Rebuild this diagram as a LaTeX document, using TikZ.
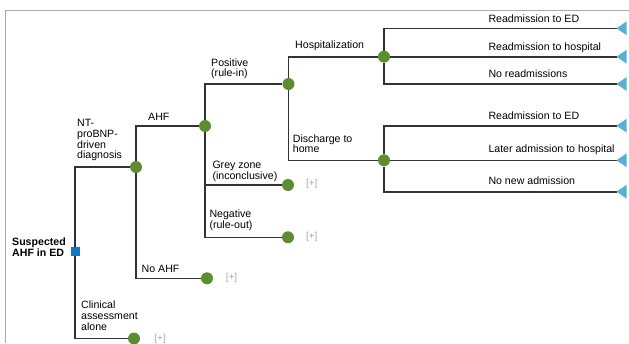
\documentclass[tikz,border=0pt]{standalone}
\usepackage{fontspec}
\setmainfont{Liberation Sans}
\definecolor{nodegreen}{RGB}{94,140,49}
\definecolor{rootblue}{RGB}{26,117,188}
\definecolor{endblue}{RGB}{86,176,214}
\definecolor{edgegray}{RGB}{51,51,51}
\definecolor{framegray}{RGB}{170,170,170}
\definecolor{plusgray}{RGB}{170,170,170}
\begin{document}
\begin{tikzpicture}[x=1pt,y=-1pt,
  chance/.style={circle,fill=nodegreen,minimum size=12pt,inner sep=0pt},
  decision/.style={rectangle,fill=rootblue,minimum size=9pt,inner sep=0pt},
  edge/.style={draw=edgegray,line width=1.6pt},
  lbl/.style={anchor=base west,inner sep=0pt,align=left,font=\fontsize{10.6}{10.7}\selectfont},
  plus/.style={inner sep=0pt,text=plusgray,font=\fontsize{10}{10}\selectfont},
  endtri/.style={fill=endblue}
]
\useasboundingbox (0,0) rectangle (629,343);
% frame
\draw[framegray,line width=1.5pt] (629,10.7) -- (5.7,10.7) -- (5.7,343);
% nodes
\node[decision] (root) at (75,251.5) {};
\node[chance] (n1) at (136,167) {};
\node[chance] (c0) at (134,338.5) {};
\node[chance] (n2) at (205,126) {};
\node[chance] (noahf) at (207,278.3) {};
\node[chance] (n3) at (288.5,84) {};
\node[chance] (grey) at (288,185) {};
\node[chance] (neg) at (288,237.3) {};
\node[chance] (n4) at (384,56.7) {};
\node[chance] (n5) at (384,160.3) {};
\coordinate (t1) at (616.5,28.3);
\coordinate (t2) at (616.5,56.7);
\coordinate (t3) at (616.5,84);
\coordinate (t4) at (616.5,125.7);
\coordinate (t5) at (616.5,160.3);
\coordinate (t6) at (616.5,191.7);
% connectors
\begin{scope}[every path/.style={edge}]
\draw (root) |- (n1);
\draw (root) |- (c0);
\draw (n1) |- (n2);
\draw (n1) |- (noahf);
\draw (n2) |- (n3);
\draw (n2) |- (grey);
\draw (n2) |- (neg);
\draw (n3) |- (n4);
\draw (n3) |- (n5);
\draw (n4) |- (t1);
\draw (n4) -- (t2);
\draw (n4) |- (t3);
\draw (n5) |- (t4);
\draw (n5) -- (t5);
\draw (n5) |- (t6);
\end{scope}
% terminal triangles
\foreach \t in {t1,t2,t3,t4,t5,t6}{
  \fill[endtri] (\t) -- ++(10,-6.8) -- ++(0,13.6) -- cycle;
}
% labels (y = baseline of last line)
\node[lbl,font=\fontsize{10.6}{11}\bfseries] (lroot) at (12,256.7) {Suspected\\AHF in ED};
\node[lbl] (l1) at (77,158.8) {NT-\\proBNP-\\driven\\diagnosis};
\node[lbl] (l0) at (81,330) {Clinical\\assessment\\alone};
\node[lbl] (l2) at (148,120.7) {AHF};
\node[lbl] (l3) at (141.5,272.7) {No AHF};
\node[lbl] (l4) at (211,76.7) {Positive\\(rule-in)};
\node[lbl] (l5) at (212.3,179.5) {Grey zone\\(inconclusive)};
\node[lbl] (l6) at (209.3,228.3) {Negative\\(rule-out)};
\node[lbl] (l7) at (295,48.3) {Hospitalization};
\node[lbl] (l8) at (292.7,152.8) {Discharge to\\home};
\node[lbl] (l9) at (488.3,22.7) {Readmission to ED};
\node[lbl] (l10) at (488.3,50.7) {Readmission to hospital};
\node[lbl] (l11) at (488.3,77.5) {No readmissions};
\node[lbl] (l12) at (488.3,119.5) {Readmission to ED};
\node[lbl] (l13) at (488.3,152.5) {Later admission to hospital};
\node[lbl] (l14) at (488.3,184.5) {No new admission};
% collapsed markers
\node[plus] (p0) at (160,338.5) {[+]};
\node[plus] (p1) at (231.5,277.5) {[+]};
\node[plus] (p2) at (311.7,184.3) {[+]};
\node[plus] (p3) at (311.7,236.5) {[+]};
\end{tikzpicture}
\end{document}
